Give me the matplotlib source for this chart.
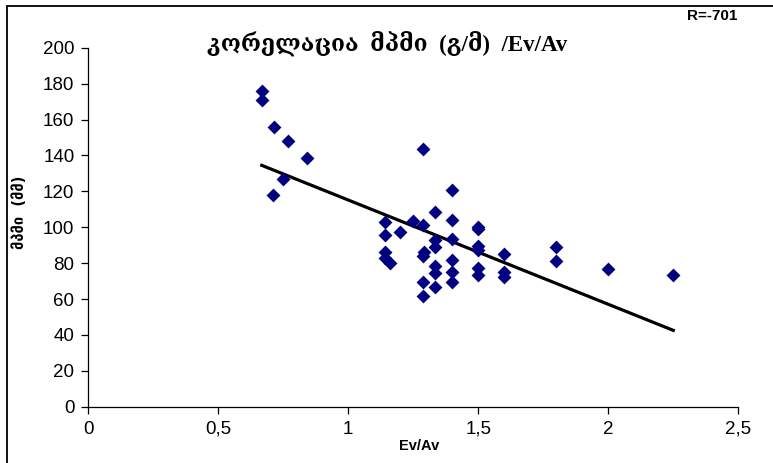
import matplotlib
matplotlib.use("Agg")
import matplotlib.pyplot as plt
from matplotlib.patches import Rectangle
from matplotlib.ticker import FuncFormatter
import numpy as np

# Ev/Av ratio and measured value (mm)
ev_av = [0.667, 0.667, 0.714, 0.767, 0.84, 0.75, 0.71,
         1.286, 1.4, 1.333, 1.4, 1.143, 1.25, 1.286, 1.5, 1.5,
         1.143, 1.2, 1.333, 1.333, 1.4, 1.5, 1.5, 1.6,
         1.143, 1.143, 1.16, 1.29, 1.286, 1.4, 1.333, 1.333,
         1.4, 1.4, 1.5, 1.5, 1.6, 1.6, 1.286, 1.333, 1.286,
         1.8, 1.8, 2.0, 2.25]
mpmi = [175.9, 170.9, 155.7, 147.9, 138.7, 127.0, 118.1,
        143.4, 120.7, 108.5, 104.0, 103.1, 103.6, 101.2, 100.3, 99.2,
        95.7, 97.5, 92.9, 89.1, 93.3, 89.7, 87.3, 85.1,
        86.4, 82.7, 79.9, 86.4, 84.0, 81.7, 78.4, 74.3,
        75.2, 69.6, 77.1, 73.4, 75.2, 72.4, 69.6, 66.5, 61.8,
        88.8, 81.3, 76.9, 73.5]

title = "კორელაცია  მპმი  (გ/მ)  /Ev/Av"
ylab = "მპმი  (მმ)"
xlab = "Ev/Av"
r_text = "R=-701"

W, H = 773, 463
fig = plt.figure(figsize=(W / 100, H / 100), dpi=100)

# chart frame (cut at right / bottom like the source)
fig.patches.append(Rectangle((7.5 / W, -0.05), 1.1, (H - 6) / H + 0.05,
                             transform=fig.transFigure, fill=False,
                             edgecolor="black", linewidth=1.3))

ax = fig.add_axes([88.3 / W, 56.3 / H, 650 / W, 359 / H])
ax.scatter(ev_av, mpmi, marker="D", s=50, color="#000080", zorder=3,
           linewidths=0)

# linear trend
k, b = np.polyfit(ev_av, mpmi, 1)
xs = np.array([min(ev_av), max(ev_av)])
ax.plot(xs, k * xs + b, color="black", linewidth=2.3, zorder=2)

ax.set_xlim(0, 2.5)
ax.set_ylim(0, 200)
ax.set_xticks(np.arange(0, 2.51, 0.5))
ax.set_yticks(np.arange(0, 201, 20))
ax.xaxis.set_major_formatter(FuncFormatter(lambda v, p: f"{v:g}".replace(".", ",")))
ax.spines["top"].set_visible(False)
ax.spines["right"].set_visible(False)
for s in ("left", "bottom"):
    ax.spines[s].set_linewidth(0.9)
ax.tick_params(direction="out", length=5, width=0.9, labelsize=13.5, pad=5)
for lbl in ax.get_xticklabels() + ax.get_yticklabels():
    lbl.set_family(["Liberation Sans", "DejaVu Sans"])

fig.text(419 / W, 1 - 446 / H, xlab, fontsize=10.5, fontweight="bold",
         family=["Liberation Sans", "DejaVu Sans"], ha="center", va="center")
fig.text(20 / W, 1 - 212 / H, ylab, rotation=90, fontsize=10.5,
         fontweight="bold", family=["DejaVu Sans"], ha="center", va="center")
fig.text(387 / W, 1 - 44 / H, title, fontsize=16.5, fontweight="bold",
         family=["Liberation Serif", "DejaVu Serif"], ha="center", va="center")
fig.text(737 / W, 1 - 16 / H, r_text, fontsize=11, fontweight="bold",
         family=["Liberation Sans", "DejaVu Sans"], ha="right", va="center")

fig.savefig("out.png", dpi=100)
